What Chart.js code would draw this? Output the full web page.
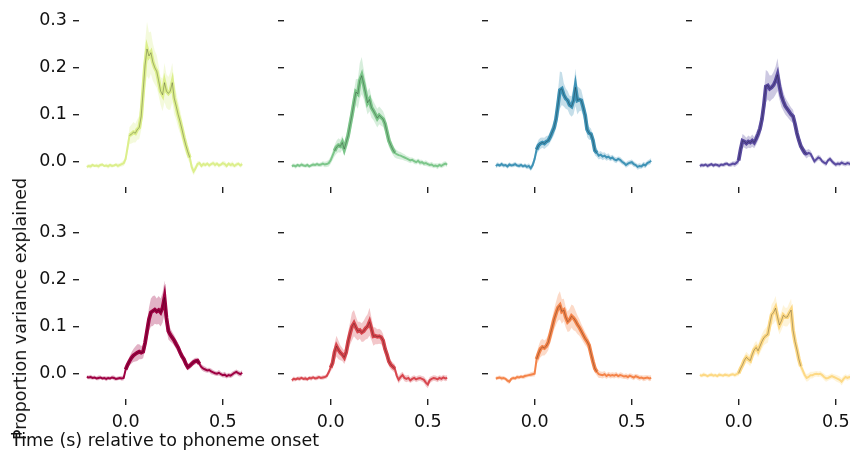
<!DOCTYPE html>
<html>
<head>
<meta charset="utf-8">
<script src="https://cdn.jsdelivr.net/npm/chart.js@4.4.1/dist/chart.umd.min.js"></script>
<style>
  body { margin: 0; background: #fff; width: 850px; height: 454px; overflow: hidden; position: relative; font-family: "DejaVu Sans", sans-serif; }
  canvas { position: absolute; }
  .lbl { position: absolute; font-size: 17.5px; color: #111; white-space: nowrap; line-height: 20px; z-index: 5; }
</style>
</head>
<body>
<div class="lbl" style="left:11px; top:430px;">Time (s) relative to phoneme onset</div>
<div class="lbl" style="left:20px; top:309px; transform:translate(-50%,-50%) rotate(-90deg);">Proportion variance explained</div>
<script>
// time axis (s), one sample every 10 ms
const times = [-0.20,-0.19,-0.18,-0.17,-0.16,-0.15,-0.14,-0.13,-0.12,-0.11,-0.10,-0.09,-0.08,-0.07,-0.06,-0.05,-0.04,-0.03,-0.02,-0.01,
  0.00,0.01,0.02,0.03,0.04,0.05,0.06,0.07,0.08,0.09,0.10,0.11,0.12,0.13,0.14,0.15,0.16,0.17,0.18,0.19,0.20,
  0.21,0.22,0.23,0.24,0.25,0.26,0.27,0.28,0.29,0.30,0.31,0.32,0.33,0.34,0.35,0.36,0.37,0.38,0.39,0.40,
  0.41,0.42,0.43,0.44,0.45,0.46,0.47,0.48,0.49,0.50,0.51,0.52,0.53,0.54,0.55,0.56,0.57,0.58,0.59,0.60];

const xTicks = [0.0, 0.5];
const yTicks = [0.0, 0.1, 0.2, 0.3];

const colors = ["#dcef8c", "#7cc68a", "#3f93b6", "#5a4ba0", "#9e0142", "#d8464e", "#f4844a", "#fdd985"];

// significant window per panel (s)
const sigStart = [0.02, 0.02, 0.01, 0.00, 0.00, 0.00, 0.01, 0.00];
const sigEnd   = [0.33, 0.33, 0.32, 0.35, 0.38, 0.33, 0.32, 0.32];

// mean proportion variance explained, per panel
const mean1 = [-0.012,-0.010,-0.011,-0.008,-0.010,-0.009,-0.011,-0.008,-0.007,-0.010,-0.009,-0.011,-0.008,-0.010,-0.009,-0.007,-0.010,-0.008,-0.006,-0.004,
  0.005,0.030,0.055,0.058,0.062,0.060,0.068,0.072,0.096,0.150,0.205,0.240,0.225,0.232,0.212,0.200,0.192,0.172,0.150,0.142,0.168,
  0.150,0.145,0.150,0.168,0.135,0.118,0.100,0.085,0.068,0.050,0.034,0.020,0.008,-0.012,-0.022,-0.015,-0.006,-0.004,-0.010,-0.006,
  -0.008,-0.005,-0.009,-0.006,-0.004,-0.008,-0.005,-0.009,-0.007,-0.004,-0.006,-0.010,-0.005,-0.008,-0.006,-0.010,-0.007,-0.005,-0.009,-0.006];
const mean2 = [-0.010,-0.009,-0.011,-0.008,-0.010,-0.007,-0.009,-0.010,-0.008,-0.011,-0.009,-0.007,-0.008,-0.006,-0.008,-0.007,-0.005,-0.007,-0.006,-0.004,
  0.002,0.012,0.022,0.030,0.034,0.032,0.040,0.026,0.040,0.055,0.078,0.100,0.125,0.148,0.144,0.172,0.183,0.165,0.145,0.125,0.132,
  0.115,0.108,0.100,0.092,0.098,0.094,0.090,0.080,0.062,0.044,0.034,0.025,0.018,0.015,0.013,0.012,0.010,0.008,0.006,0.004,
  0.002,0.003,0.000,-0.002,0.001,-0.003,-0.002,-0.005,-0.004,-0.006,-0.008,-0.007,-0.010,-0.009,-0.011,-0.008,-0.010,-0.007,-0.005,-0.007];
const mean3 = [-0.010,-0.007,-0.009,-0.006,-0.009,-0.008,-0.011,-0.007,-0.009,-0.008,-0.006,-0.009,-0.010,-0.008,-0.011,-0.009,-0.012,-0.010,-0.015,-0.008,
  0.005,0.025,0.034,0.038,0.040,0.038,0.042,0.044,0.052,0.062,0.072,0.090,0.120,0.152,0.155,0.142,0.134,0.130,0.120,0.117,0.130,
  0.158,0.130,0.132,0.130,0.115,0.098,0.068,0.060,0.058,0.045,0.023,0.018,0.012,0.014,0.010,0.012,0.008,0.010,0.006,0.008,
  0.004,0.002,0.005,0.003,-0.001,-0.004,-0.008,-0.005,-0.003,-0.002,-0.006,-0.008,-0.012,-0.010,-0.011,-0.007,-0.009,-0.004,-0.002,0.001];
const mean4 = [-0.010,-0.008,-0.009,-0.007,-0.010,-0.008,-0.006,-0.009,-0.007,-0.008,-0.010,-0.007,-0.008,-0.006,-0.005,-0.008,-0.007,-0.005,-0.006,-0.003,
  0.002,0.025,0.044,0.042,0.038,0.042,0.040,0.044,0.040,0.048,0.058,0.070,0.090,0.120,0.160,0.162,0.155,0.158,0.163,0.172,0.185,
  0.160,0.140,0.128,0.118,0.112,0.106,0.100,0.096,0.080,0.060,0.045,0.032,0.025,0.018,0.015,0.018,0.016,0.008,0.000,0.004,
  0.008,0.006,0.000,-0.003,-0.005,0.002,0.005,0.000,-0.004,-0.007,-0.005,-0.006,-0.003,-0.005,-0.006,-0.004,-0.005,-0.007,-0.005,-0.006];
const mean5 = [-0.008,-0.009,-0.008,-0.010,-0.009,-0.011,-0.010,-0.009,-0.011,-0.010,-0.012,-0.010,-0.011,-0.009,-0.010,-0.012,-0.011,-0.010,-0.011,-0.010,
  0.008,0.018,0.026,0.033,0.038,0.041,0.044,0.046,0.044,0.046,0.065,0.090,0.115,0.130,0.133,0.136,0.132,0.135,0.130,0.140,0.162,
  0.118,0.090,0.082,0.076,0.070,0.062,0.055,0.045,0.036,0.030,0.020,0.013,0.016,0.020,0.024,0.026,0.027,0.020,0.013,0.010,
  0.008,0.006,0.007,0.004,0.002,0.000,-0.001,0.001,-0.002,-0.004,-0.003,-0.006,-0.004,-0.005,-0.002,0.001,0.003,0.000,-0.002,0.001];
const mean6 = [-0.015,-0.012,-0.013,-0.011,-0.012,-0.010,-0.012,-0.011,-0.013,-0.010,-0.011,-0.009,-0.011,-0.010,-0.008,-0.010,-0.009,-0.008,-0.006,0.002,
  0.012,0.022,0.045,0.058,0.050,0.044,0.040,0.034,0.045,0.068,0.085,0.100,0.107,0.098,0.090,0.092,0.087,0.090,0.096,0.100,0.110,
  0.095,0.079,0.080,0.078,0.079,0.077,0.070,0.052,0.040,0.025,0.018,0.014,0.010,-0.005,-0.014,-0.008,-0.004,-0.010,-0.012,-0.010,
  -0.015,-0.012,-0.010,-0.013,-0.011,-0.010,-0.012,-0.014,-0.020,-0.024,-0.015,-0.012,-0.010,-0.011,-0.013,-0.010,-0.012,-0.009,-0.011,-0.010];
const mean7 = [-0.011,-0.010,-0.009,-0.011,-0.010,-0.012,-0.016,-0.018,-0.012,-0.010,-0.011,-0.008,-0.009,-0.007,-0.008,-0.006,-0.005,-0.004,-0.003,-0.002,
  -0.001,0.030,0.042,0.052,0.056,0.054,0.058,0.066,0.082,0.098,0.115,0.128,0.140,0.145,0.132,0.135,0.120,0.110,0.114,0.122,0.118,
  0.112,0.104,0.098,0.090,0.082,0.074,0.068,0.060,0.042,0.025,0.010,0.003,-0.002,-0.003,-0.004,-0.002,-0.006,-0.003,-0.005,-0.004,
  -0.005,-0.003,-0.006,-0.004,-0.005,-0.007,-0.006,-0.008,-0.005,-0.007,-0.009,-0.006,-0.008,-0.010,-0.009,-0.011,-0.010,-0.009,-0.011,-0.010];
const mean8 = [-0.004,-0.005,-0.003,-0.004,-0.006,-0.004,-0.003,-0.005,-0.004,-0.006,-0.003,-0.004,-0.005,-0.003,-0.004,-0.005,-0.003,-0.002,-0.004,-0.002,
  0.000,0.010,0.018,0.028,0.034,0.030,0.027,0.040,0.050,0.055,0.048,0.058,0.068,0.076,0.080,0.083,0.105,0.125,0.130,0.139,0.120,
  0.103,0.112,0.124,0.120,0.120,0.128,0.135,0.092,0.068,0.050,0.030,0.015,0.006,-0.004,-0.010,-0.008,-0.004,-0.004,-0.002,-0.001,
  -0.002,-0.001,-0.004,-0.008,-0.011,-0.010,-0.008,-0.006,-0.008,-0.010,-0.012,-0.014,-0.018,-0.012,-0.008,-0.010,-0.008,-0.009,-0.011,-0.008];

// half-width of the shaded band, per panel
const err1 = [0.004,0.004,0.005,0.004,0.003,0.004,0.005,0.004,0.004,0.003,0.004,0.005,0.004,0.004,0.003,0.004,0.005,0.004,0.005,0.006,
  0.008,0.012,0.018,0.020,0.022,0.020,0.022,0.025,0.030,0.040,0.050,0.058,0.050,0.045,0.040,0.036,0.035,0.032,0.030,0.035,0.042,
  0.036,0.035,0.040,0.042,0.035,0.030,0.028,0.025,0.022,0.020,0.018,0.015,0.012,0.010,0.008,0.007,0.006,0.005,0.005,0.005,
  0.005,0.004,0.005,0.004,0.005,0.006,0.004,0.005,0.004,0.005,0.006,0.005,0.004,0.005,0.006,0.004,0.005,0.004,0.005,0.005];
const err2 = [0.004,0.004,0.005,0.004,0.004,0.005,0.004,0.004,0.005,0.004,0.004,0.005,0.004,0.005,0.004,0.005,0.005,0.006,0.006,0.007,
  0.008,0.010,0.012,0.014,0.015,0.014,0.015,0.014,0.016,0.018,0.020,0.022,0.024,0.028,0.032,0.038,0.040,0.032,0.028,0.025,0.025,
  0.022,0.020,0.020,0.020,0.019,0.018,0.017,0.016,0.015,0.014,0.012,0.011,0.010,0.009,0.008,0.008,0.007,0.007,0.006,0.006,
  0.006,0.005,0.006,0.005,0.005,0.006,0.005,0.005,0.006,0.005,0.005,0.006,0.005,0.005,0.006,0.005,0.005,0.006,0.005,0.005];
const err3 = [0.005,0.005,0.004,0.005,0.005,0.004,0.005,0.005,0.004,0.005,0.005,0.004,0.005,0.005,0.004,0.005,0.005,0.006,0.006,0.007,
  0.008,0.010,0.012,0.012,0.011,0.012,0.012,0.011,0.012,0.014,0.016,0.020,0.030,0.040,0.035,0.025,0.022,0.020,0.020,0.022,0.030,
  0.040,0.030,0.025,0.022,0.020,0.018,0.016,0.014,0.012,0.011,0.010,0.009,0.008,0.008,0.008,0.007,0.007,0.007,0.006,0.006,
  0.006,0.006,0.005,0.006,0.006,0.005,0.006,0.006,0.005,0.006,0.006,0.005,0.006,0.006,0.005,0.006,0.006,0.005,0.006,0.006];
const err4 = [0.004,0.005,0.004,0.004,0.005,0.004,0.004,0.005,0.004,0.004,0.005,0.004,0.004,0.005,0.004,0.004,0.005,0.005,0.006,0.006,
  0.008,0.012,0.014,0.013,0.012,0.013,0.012,0.013,0.012,0.013,0.014,0.016,0.020,0.025,0.035,0.030,0.028,0.026,0.028,0.030,0.035,
  0.028,0.024,0.020,0.018,0.017,0.016,0.015,0.014,0.012,0.011,0.010,0.010,0.009,0.008,0.009,0.008,0.007,0.007,0.006,0.006,
  0.006,0.006,0.005,0.005,0.006,0.005,0.005,0.006,0.005,0.005,0.005,0.005,0.005,0.005,0.005,0.005,0.005,0.005,0.005,0.005];
const err5 = [0.004,0.004,0.005,0.004,0.004,0.004,0.005,0.004,0.004,0.004,0.005,0.004,0.004,0.004,0.005,0.004,0.004,0.004,0.005,0.005,
  0.006,0.008,0.010,0.012,0.014,0.016,0.018,0.016,0.014,0.014,0.016,0.020,0.025,0.030,0.032,0.030,0.028,0.030,0.030,0.032,0.036,
  0.025,0.018,0.014,0.012,0.011,0.010,0.010,0.009,0.009,0.008,0.008,0.007,0.007,0.007,0.007,0.007,0.006,0.006,0.006,0.006,
  0.006,0.005,0.005,0.006,0.005,0.005,0.005,0.006,0.005,0.005,0.006,0.005,0.005,0.005,0.006,0.005,0.005,0.006,0.005,0.006];
const err6 = [0.004,0.005,0.004,0.004,0.005,0.004,0.004,0.005,0.004,0.004,0.005,0.004,0.004,0.005,0.004,0.004,0.005,0.004,0.005,0.006,
  0.008,0.012,0.018,0.022,0.020,0.016,0.014,0.014,0.016,0.020,0.024,0.030,0.028,0.024,0.020,0.018,0.020,0.022,0.024,0.026,0.030,
  0.024,0.020,0.018,0.016,0.016,0.015,0.014,0.012,0.011,0.010,0.010,0.009,0.009,0.008,0.008,0.008,0.007,0.007,0.007,0.007,
  0.006,0.006,0.006,0.006,0.006,0.006,0.006,0.007,0.008,0.008,0.007,0.006,0.006,0.006,0.006,0.006,0.006,0.006,0.006,0.006];
const err7 = [0.004,0.004,0.004,0.005,0.004,0.004,0.005,0.005,0.004,0.004,0.004,0.005,0.004,0.004,0.004,0.005,0.004,0.004,0.005,0.005,
  0.006,0.012,0.016,0.018,0.018,0.016,0.016,0.017,0.018,0.020,0.022,0.025,0.028,0.030,0.026,0.024,0.022,0.022,0.024,0.025,0.026,
  0.022,0.020,0.018,0.016,0.015,0.014,0.013,0.012,0.011,0.010,0.009,0.008,0.008,0.007,0.007,0.007,0.006,0.006,0.006,0.006,
  0.006,0.006,0.005,0.006,0.006,0.005,0.006,0.006,0.005,0.006,0.006,0.005,0.006,0.006,0.005,0.006,0.006,0.005,0.006,0.006];
const err8 = [0.004,0.004,0.005,0.004,0.004,0.004,0.005,0.004,0.004,0.004,0.005,0.004,0.004,0.004,0.005,0.004,0.004,0.004,0.005,0.005,
  0.006,0.008,0.010,0.011,0.012,0.011,0.012,0.012,0.013,0.014,0.014,0.015,0.016,0.016,0.017,0.018,0.020,0.022,0.024,0.026,0.022,
  0.020,0.020,0.022,0.020,0.020,0.022,0.024,0.020,0.016,0.014,0.012,0.010,0.009,0.008,0.008,0.008,0.007,0.007,0.006,0.006,
  0.006,0.006,0.006,0.007,0.007,0.006,0.006,0.006,0.006,0.007,0.007,0.007,0.008,0.007,0.006,0.006,0.006,0.006,0.006,0.006];

const means = [mean1, mean2, mean3, mean4, mean5, mean6, mean7, mean8];
const errs = [err1, err2, err3, err4, err5, err6, err7, err8];

means.concat(errs).forEach((a, k) => {
    if (a.length !== times.length) throw new Error("array " + k + " has " + a.length + " values");
});

// layout of the 2 x 4 grid (page pixels of each plot area)
const colLeft = [79, 284, 488, 692];
const rowTop = [7, 219];
const plotW = 171, plotH = 180;
const padL = 80, padT = 12, padR = 4, padB = 40;

function rgba(hex, a) {
    const n = parseInt(hex.slice(1), 16);
    return `rgba(${(n >> 16) & 255},${(n >> 8) & 255},${n & 255},${a})`;
}

const tickFont = { family: "DejaVu Sans", size: 17.5 };

means.forEach((m, i) => {
    const row = Math.floor(i / 4), col = i % 4;
    const e = errs[i];
    const c = colors[i];

    const cv = document.createElement("canvas");
    const w = padL + plotW + padR, h = padT + plotH + padB;
    cv.width = w; cv.height = h;
    cv.style.width = w + "px"; cv.style.height = h + "px";
    cv.style.left = (colLeft[col] - padL) + "px";
    cv.style.top = (rowTop[row] - padT) + "px";
    document.body.appendChild(cv);

    const pts = times.map((t, k) => ({ x: t, y: m[k] }));
    const upper = times.map((t, k) => ({ x: t, y: m[k] + e[k] }));
    const lower = times.map((t, k) => ({ x: t, y: m[k] - e[k] }));
    const sig = pts.filter(p => p.x >= sigStart[i] - 1e-9 && p.x <= sigEnd[i] + 1e-9);

    new Chart(cv, {
        type: "line",
        data: {
            datasets: [
                { data: upper, borderWidth: 0, pointRadius: 0, fill: "+1", backgroundColor: rgba(c, 0.3), order: 4 },
                { data: lower, borderWidth: 0, pointRadius: 0, fill: false, order: 4 },
                { data: pts, borderColor: c, borderWidth: 2, pointRadius: 0, fill: false, order: 3 },
                { data: sig, borderColor: c, borderWidth: 3.8, pointRadius: 0, fill: false, order: 2 },
                { data: sig, borderColor: "rgba(0,0,0,0.4)", borderWidth: 0.7, pointRadius: 0, fill: false, order: 1 }
            ]
        },
        options: {
            responsive: false,
            animation: false,
            layout: { padding: { top: padT, right: padR, left: 0, bottom: 0 } },
            plugins: { legend: { display: false }, tooltip: { enabled: false } },
            scales: {
                x: {
                    type: "linear", min: -0.24, max: 0.64,
                    afterBuildTicks: s => { s.ticks = xTicks.map(v => ({ value: v })); },
                    afterFit: s => { s.height = padB; },
                    ticks: { font: tickFont, color: "#111", padding: 7, maxRotation: 0,
                             callback: v => row === 1 ? v.toFixed(1) : "" },
                    grid: { drawOnChartArea: false, drawTicks: true, tickLength: 6, color: "#222", lineWidth: 1.4 },
                    border: { display: false }
                },
                y: {
                    min: -0.055, max: 0.32,
                    afterBuildTicks: s => { s.ticks = yTicks.map(v => ({ value: v })); },
                    afterFit: s => { s.width = padL; },
                    ticks: { font: tickFont, color: "#111", padding: 6,
                             callback: v => col === 0 ? v.toFixed(1) : "" },
                    grid: { drawOnChartArea: false, drawTicks: true, tickLength: 6, color: "#222", lineWidth: 1.4 },
                    border: { display: false }
                }
            }
        }
    });
});
</script>
</body>
</html>
